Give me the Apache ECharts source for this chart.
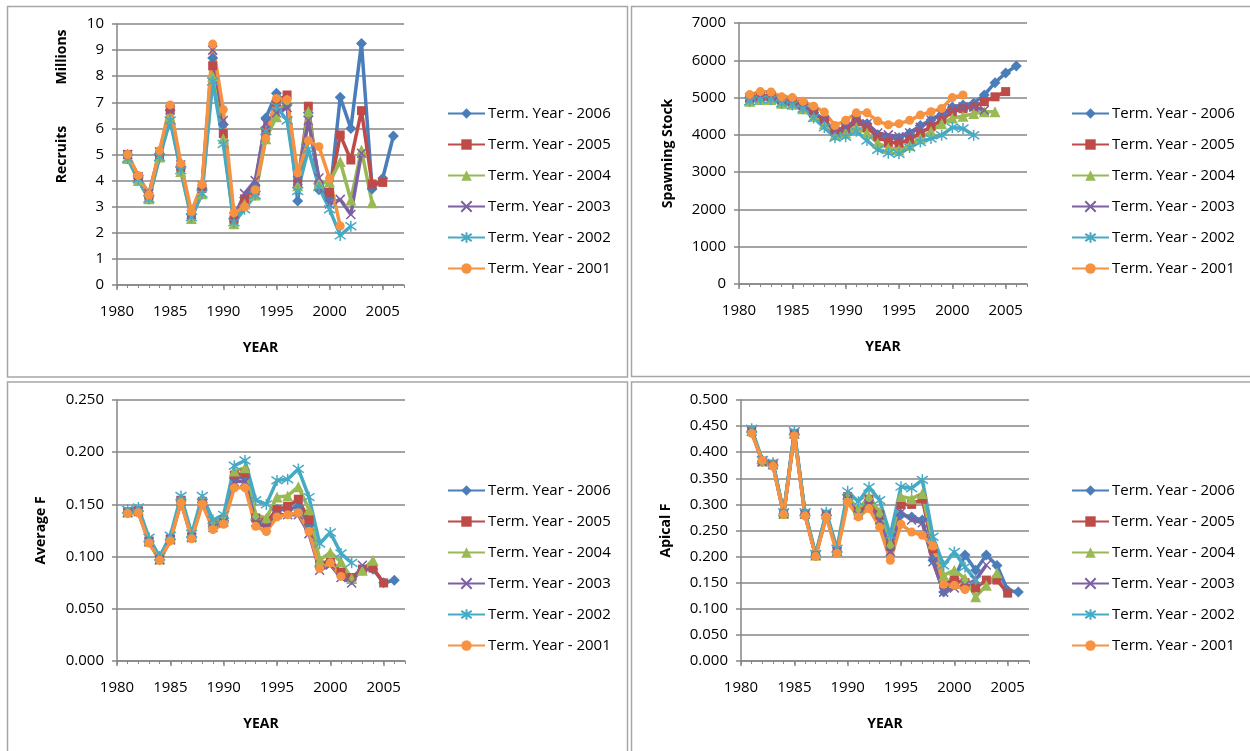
<!DOCTYPE html>
<html>
<head>
<meta charset="utf-8">
<script src="https://cdn.jsdelivr.net/npm/echarts@6/dist/echarts.min.js"></script>
<style>
  html, body { margin: 0; padding: 0; background: #fff; }
  #chart { width: 1250px; height: 751px; }
</style>
</head>
<body>
<div id="chart"></div>
<script>
const years = [1981, 1982, 1983, 1984, 1985, 1986, 1987, 1988, 1989, 1990,
  1991, 1992, 1993, 1994, 1995, 1996, 1997, 1998, 1999, 2000,
  2001, 2002, 2003, 2004, 2005, 2006];

const termYears = ['2006', '2005', '2004', '2003', '2002', '2001'];
const xLabelYears = [1980, 1985, 1990, 1995, 2000, 2005];

// Recruits (millions)
const recruits2006 = [5.0, 4.1, 3.4, 5.0, 6.7, 4.5, 2.7, 3.7, 8.7, 6.15, 2.55, 3.35, 3.8, 6.4, 7.35, 6.9, 3.22, 6.6, 3.65, 3.35, 7.19, 6.0, 9.25, 3.68, 4.09, 5.71];
const recruits2005 = [5.0, 4.1, 3.4, 5.0, 6.75, 4.5, 2.65, 3.7, 8.4, 5.8, 2.5, 3.3, 3.6, 5.9, 7.0, 7.28, 3.9, 6.85, 3.8, 3.55, 5.75, 4.79, 6.68, 3.87, 3.93];
const recruits2004 = [4.85, 4.0, 3.3, 4.9, 6.4, 4.35, 2.55, 3.5, 8.0, 5.6, 2.35, 3.1, 3.45, 5.6, 6.45, 7.1, 3.8, 6.65, 3.9, 3.95, 4.73, 3.26, 5.17, 3.15];
const recruits2003 = [5.0, 4.15, 3.5, 5.1, 6.7, 4.6, 2.7, 3.8, 9.0, 6.3, 2.6, 3.5, 4.0, 6.2, 6.6, 6.8, 4.0, 6.3, 4.1, 3.1, 3.28, 2.7, 5.05];
const recruits2002 = [4.85, 4.05, 3.3, 4.9, 6.3, 4.4, 2.6, 3.5, 7.8, 5.4, 2.4, 2.9, 3.45, 5.9, 6.85, 6.3, 3.6, 5.2, 3.75, 2.9, 1.9, 2.25];
const recruits2001 = [5.0, 4.2, 3.45, 5.15, 6.9, 4.65, 2.82, 3.85, 9.23, 6.72, 2.77, 3.0, 3.65, 5.62, 7.15, 7.1, 4.3, 5.53, 5.3, 4.08, 2.26];

// Spawning stock
const ssb2006 = [5000, 5050, 5050, 4950, 4900, 4800, 4600, 4400, 4100, 4200, 4400, 4300, 4000, 3900, 3920, 4050, 4250, 4400, 4550, 4750, 4800, 4850, 5070, 5400, 5660, 5850];
const ssb2005 = [4980, 5030, 5030, 4930, 4880, 4780, 4580, 4380, 4080, 4150, 4350, 4200, 3950, 3800, 3780, 3880, 4050, 4220, 4400, 4620, 4700, 4750, 4890, 5020, 5160];
const ssb2004 = [4900, 4950, 4950, 4850, 4820, 4700, 4500, 4300, 4000, 4050, 4200, 4050, 3780, 3650, 3600, 3720, 3900, 4100, 4300, 4450, 4500, 4570, 4620, 4620];
const ssb2003 = [5000, 5050, 5050, 4950, 4900, 4800, 4600, 4400, 4100, 4200, 4400, 4300, 4050, 4000, 3950, 4050, 4200, 4400, 4550, 4700, 4750, 4750, 4660];
const ssb2002 = [4900, 4950, 4950, 4850, 4800, 4700, 4450, 4200, 3920, 3950, 4100, 3850, 3600, 3510, 3490, 3660, 3810, 3900, 3990, 4200, 4170, 3990];
const ssb2001 = [5080, 5160, 5150, 5020, 5000, 4900, 4770, 4610, 4250, 4390, 4590, 4590, 4370, 4270, 4300, 4390, 4530, 4620, 4710, 5000, 5070];

// Average F
const avgF2006 = [0.142, 0.143, 0.114, 0.097, 0.116, 0.153, 0.118, 0.152, 0.129, 0.134, 0.175, 0.176, 0.135, 0.132, 0.145, 0.145, 0.148, 0.13, 0.09, 0.095, 0.083, 0.078, 0.087, 0.088, 0.075, 0.0774];
const avgF2005 = [0.143, 0.144, 0.115, 0.097, 0.117, 0.154, 0.119, 0.153, 0.13, 0.135, 0.178, 0.18, 0.137, 0.133, 0.145, 0.148, 0.155, 0.135, 0.092, 0.097, 0.085, 0.08, 0.088, 0.089, 0.0748];
const avgF2004 = [0.143, 0.145, 0.116, 0.098, 0.118, 0.155, 0.12, 0.155, 0.132, 0.137, 0.182, 0.185, 0.14, 0.137, 0.157, 0.158, 0.167, 0.145, 0.0966, 0.104, 0.095, 0.079, 0.087, 0.0966];
const avgF2003 = [0.142, 0.143, 0.114, 0.097, 0.116, 0.153, 0.118, 0.152, 0.128, 0.133, 0.172, 0.172, 0.133, 0.128, 0.14, 0.14, 0.14, 0.122, 0.087, 0.092, 0.08, 0.0748, 0.0917];
const avgF2002 = [0.145, 0.147, 0.118, 0.1, 0.12, 0.158, 0.122, 0.158, 0.135, 0.14, 0.187, 0.192, 0.154, 0.15, 0.173, 0.174, 0.184, 0.157, 0.1125, 0.123, 0.103, 0.094];
const avgF2001 = [0.1413, 0.142, 0.113, 0.0966, 0.115, 0.1515, 0.117, 0.15, 0.126, 0.131, 0.166, 0.166, 0.129, 0.124, 0.138, 0.14, 0.142, 0.124, 0.0886, 0.094, 0.081];

// Apical F
const apF2006 = [0.44, 0.382, 0.376, 0.282, 0.435, 0.281, 0.202, 0.28, 0.21, 0.31, 0.285, 0.305, 0.275, 0.215, 0.28, 0.276, 0.27, 0.193, 0.132, 0.158, 0.203, 0.174, 0.203, 0.183, 0.135, 0.132];
const apF2005 = [0.441, 0.383, 0.377, 0.282, 0.436, 0.282, 0.202, 0.281, 0.211, 0.315, 0.285, 0.31, 0.28, 0.22, 0.3, 0.3, 0.31, 0.215, 0.15, 0.155, 0.15, 0.14, 0.155, 0.155, 0.13];
const apF2004 = [0.442, 0.383, 0.378, 0.283, 0.437, 0.283, 0.203, 0.282, 0.212, 0.315, 0.29, 0.315, 0.285, 0.225, 0.315, 0.311, 0.321, 0.225, 0.164, 0.174, 0.158, 0.123, 0.145, 0.169];
const apF2003 = [0.44, 0.382, 0.376, 0.282, 0.435, 0.281, 0.202, 0.28, 0.21, 0.31, 0.28, 0.3, 0.27, 0.21, 0.285, 0.27, 0.265, 0.19, 0.132, 0.14, 0.145, 0.155, 0.184];
const apF2002 = [0.445, 0.385, 0.38, 0.285, 0.44, 0.285, 0.205, 0.285, 0.215, 0.325, 0.305, 0.333, 0.308, 0.241, 0.334, 0.331, 0.347, 0.238, 0.183, 0.209, 0.18, 0.155];
const apF2001 = [0.436, 0.384, 0.373, 0.281, 0.431, 0.278, 0.2, 0.276, 0.206, 0.304, 0.276, 0.292, 0.256, 0.193, 0.262, 0.247, 0.241, 0.22, 0.147, 0.145, 0.137];

const panels = [
  [recruits2006, recruits2005, recruits2004, recruits2003, recruits2002, recruits2001],
  [ssb2006, ssb2005, ssb2004, ssb2003, ssb2002, ssb2001],
  [avgF2006, avgF2005, avgF2004, avgF2003, avgF2002, avgF2001],
  [apF2006, apF2005, apF2004, apF2003, apF2002, apF2001]
];

const colors = ['#4A7EBB', '#BE4B48', '#98B954', '#7D60A0', '#46AAC5', '#F69240'];
const X_PATH = 'path://M0,0L10,10M10,0L0,10';
const STAR_PATH = 'path://M0,1.5L10,8.5M10,1.5L0,8.5M5,0L5,10';
const symbols = ['diamond', 'rect', 'triangle', X_PATH, STAR_PATH, 'circle'];
const symbolSizes = [11, 9, 11, 9, 11, 9];

const FONT = '"Open Sans", "Liberation Sans", sans-serif';
const GRID_COLOR = '#868686';

const chart = echarts.init(document.getElementById('chart'), null, { renderer: 'canvas' });

const grids = [
  { left: 117, top: 24, width: 287, height: 261 },
  { left: 739, top: 23, width: 288, height: 261 },
  { left: 117, top: 400, width: 288, height: 261 },
  { left: 741, top: 400, width: 288, height: 261 }
];

const yCfg = [
  { min: 0, max: 10, interval: 1, name: 'Recruits', gap: 48, fmt: v => String(v) },
  { min: 0, max: 7000, interval: 1000, name: 'Spawning Stock', gap: 64, fmt: v => String(v) },
  { min: 0, max: 0.25, interval: 0.05, name: 'Average F', gap: 69, fmt: v => v.toFixed(3) },
  { min: 0, max: 0.5, interval: 0.05, name: 'Apical F', gap: 68, fmt: v => v.toFixed(3) }
];

const mainX = grids.map((g, i) => ({
  type: 'value',
  gridIndex: i,
  position: 'bottom',
  min: 1980,
  max: 2007,
  interval: 5,
  name: 'YEAR',
  nameLocation: 'middle',
  nameGap: 56,
  nameTextStyle: { fontFamily: FONT, fontWeight: 'bold', fontSize: 14, color: '#000' },
  axisLine: { show: true, lineStyle: { color: GRID_COLOR, width: 1.5 } },
  axisTick: { show: true, length: 5, customValues: xLabelYears, lineStyle: { color: GRID_COLOR, width: 1.5 } },
  axisLabel: { customValues: xLabelYears, margin: 19, fontFamily: FONT, fontSize: 15, color: '#000', formatter: v => String(v) },
  splitLine: { show: false }
}));

const minorX = grids.map((g, i) => ({
  type: 'value',
  gridIndex: i,
  position: 'bottom',
  min: 1980,
  max: 2007,
  interval: 1,
  axisLine: { show: false },
  axisTick: { show: true, length: 3, lineStyle: { color: GRID_COLOR, width: 1 } },
  axisLabel: { show: false },
  splitLine: { show: false }
}));

const yAxes = yCfg.map((c, i) => ({
  type: 'value',
  gridIndex: i,
  min: c.min,
  max: c.max,
  interval: c.interval,
  name: c.name,
  nameLocation: 'middle',
  nameGap: c.gap,
  nameTextStyle: { fontFamily: FONT, fontWeight: 'bold', fontSize: 14, color: '#000' },
  axisLine: { show: true, lineStyle: { color: GRID_COLOR, width: 1.5 } },
  axisTick: { show: true, length: 5, lineStyle: { color: GRID_COLOR, width: 1.5 } },
  axisLabel: { margin: 13, fontFamily: FONT, fontSize: 15, color: '#000', formatter: c.fmt },
  splitLine: { show: true, lineStyle: { color: GRID_COLOR, width: 1.5 } }
}));

const series = [];
panels.forEach((sets, p) => {
  sets.forEach((vals, k) => {
    const isStroke = k === 3 || k === 4;
    series.push({
      name: 'Term. Year - ' + termYears[k],
      type: 'line',
      xAxisIndex: p,
      yAxisIndex: p,
      data: vals.map((v, i) => [years[i], v]),
      symbol: symbols[k],
      symbolSize: symbolSizes[k],
      showAllSymbol: true,
      lineStyle: { color: colors[k], width: 3.5 },
      itemStyle: isStroke
        ? { color: colors[k], borderColor: colors[k], borderWidth: 1.5 }
        : { color: colors[k], borderWidth: 0 },
      emphasis: { disabled: true },
      animation: false
    });
  });
});

const legendPos = [
  { left: 447, top: 106 },
  { left: 1071, top: 106 },
  { left: 447, top: 483 },
  { left: 1071, top: 483 }
];
const legendNames = termYears.map(t => 'Term. Year - ' + t);
const legends = legendPos.map(pos => ({
  orient: 'vertical',
  left: pos.left,
  top: pos.top,
  padding: 0,
  itemWidth: 37,
  itemHeight: 13,
  itemGap: 16,
  data: legendNames,
  selectedMode: false,
  textStyle: { fontFamily: FONT, fontSize: 15, color: '#000', padding: [0, 0, 0, -2] }
}));

const borderStyle = { fill: 'none', stroke: '#A6A6A6', lineWidth: 1.5 };
const graphic = [
  { type: 'rect', shape: { x: 7.5, y: 6.5, width: 620, height: 370.5 }, style: borderStyle, silent: true },
  { type: 'rect', shape: { x: 631.5, y: 6.5, width: 630, height: 370 }, style: borderStyle, silent: true },
  { type: 'rect', shape: { x: 7.5, y: 382, width: 620, height: 380 }, style: borderStyle, silent: true },
  { type: 'rect', shape: { x: 631.5, y: 382, width: 630, height: 380 }, style: borderStyle, silent: true },
  {
    type: 'text', x: 62, y: 57, rotation: Math.PI / 2, silent: true,
    style: { text: 'Millions', align: 'center', verticalAlign: 'middle', fill: '#000',
      font: 'bold 14px "Open Sans", sans-serif' }
  }
];

chart.setOption({
  animation: false,
  textStyle: { fontFamily: FONT },
  grid: grids,
  xAxis: mainX.concat(minorX),
  yAxis: yAxes,
  legend: legends,
  graphic: graphic,
  series: series
});
</script>
</body>
</html>
